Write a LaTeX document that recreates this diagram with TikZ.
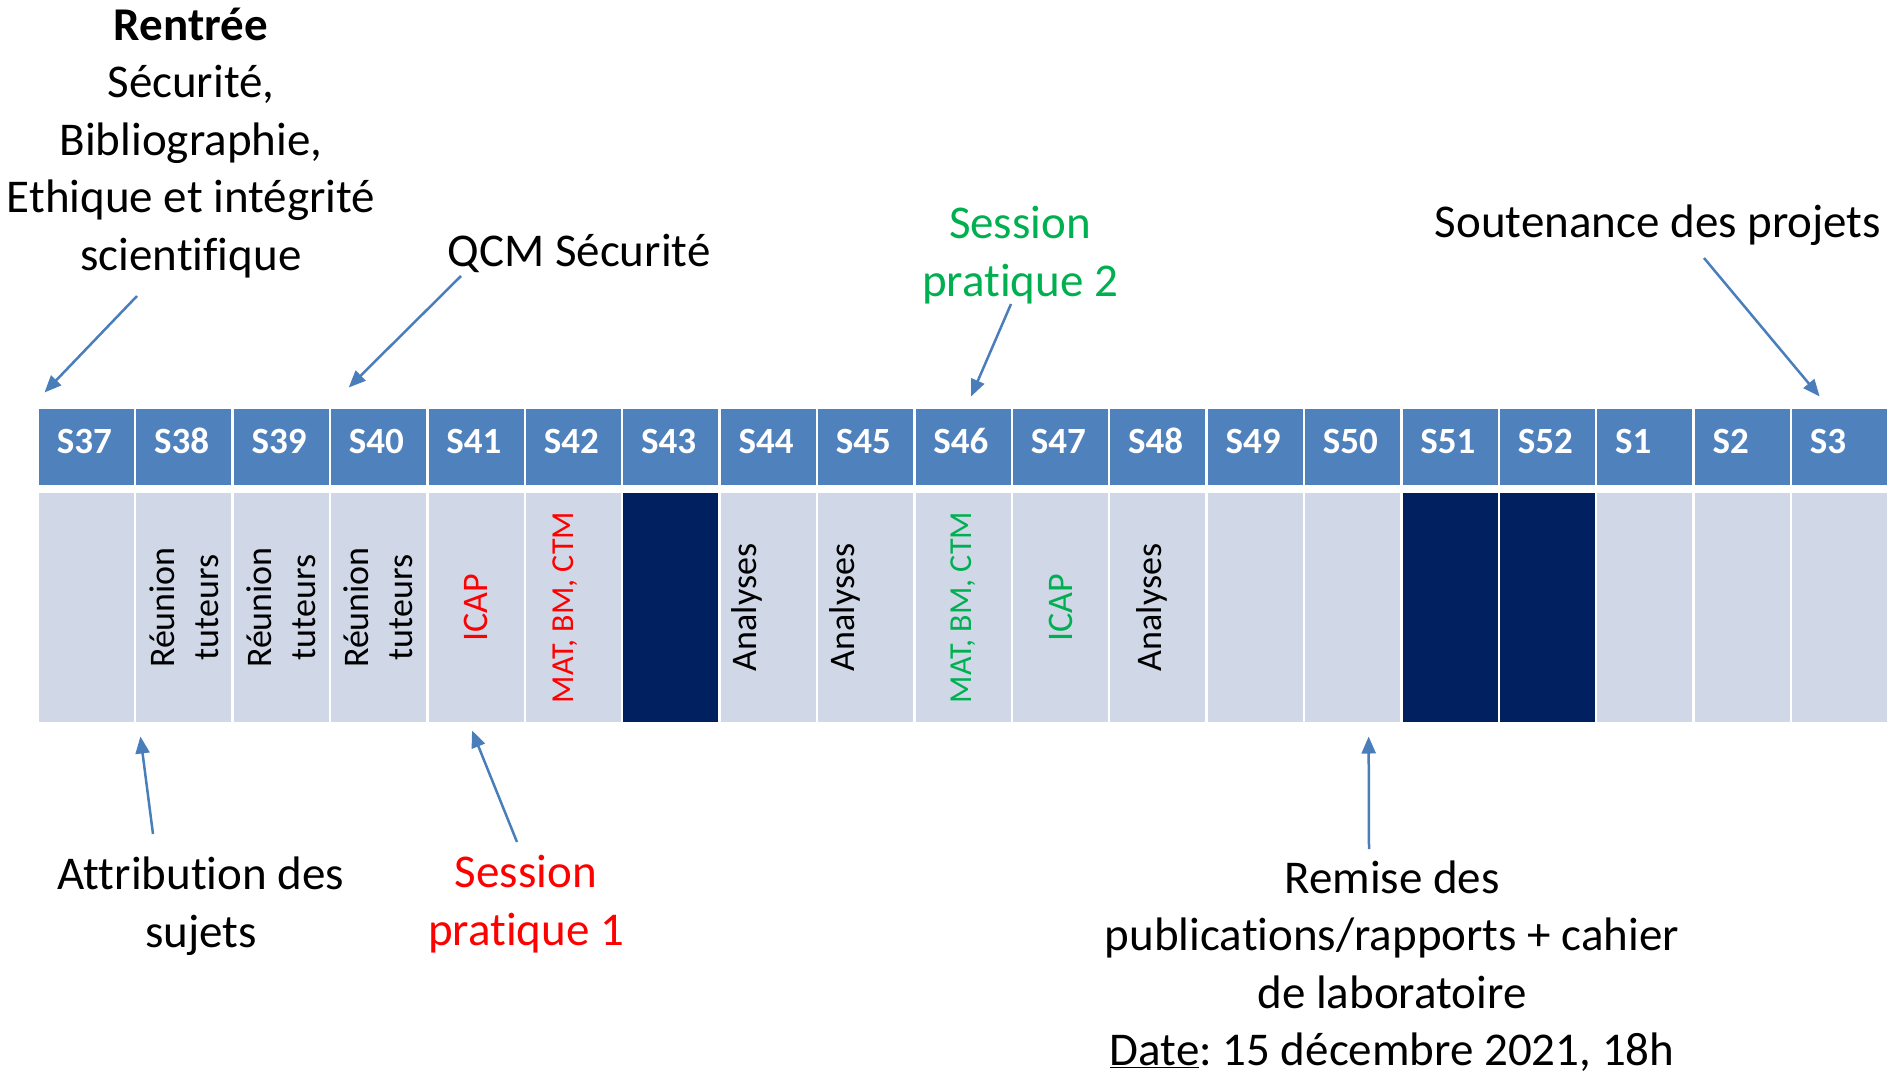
\documentclass[tikz,border=0pt]{standalone}
\usepackage{fontspec}
\setmainfont[Ligatures=NoCommon]{Carlito}
\usetikzlibrary{arrows.meta}
\frenchspacing

\definecolor{headblue}{RGB}{79,129,189}
\definecolor{cellgray}{RGB}{208,216,232}
\definecolor{navy}{RGB}{0,32,96}
\definecolor{arrowblue}{RGB}{74,126,187}
\definecolor{sesgreen}{RGB}{0,176,80}

\begin{document}
\begin{tikzpicture}[x=1pt,y=-1pt]
\useasboundingbox (0,0) rectangle (1899,1076);
\tikzstyle{week}=[draw=white,line width=2.5pt,fill=headblue,text=white,
  minimum width=97.4pt,minimum height=78.5pt,inner xsep=19pt,
  text width=59.4pt,align=left,text depth=12pt,
  font=\fontsize{37}{44}\selectfont\bfseries];
\tikzstyle{slot}=[draw=white,line width=2.5pt,fill=cellgray,
  minimum width=97.4pt,minimum height=231.5pt];
\tikzstyle{vtext}=[rotate=90,align=center,inner sep=0pt,
  font=\fontsize{36}{44}\selectfont];
\tikzstyle{note}=[align=center,inner sep=0pt,
  font=\fontsize{47}{57.5}\selectfont];
\tikzstyle{pointer}=[draw=arrowblue,line width=2.5pt,
  -{Triangle[length=17pt,width=14pt]}];
% semaines
\foreach \w [count=\i from 0] in {37,...,52,1,2,3}{
  \node[week] (h\w) at (86.45+97.4*\i,447) {S\w};
  \node[slot] (b\w) at (86.45+97.4*\i,607.5) {};
}
% vacances
\foreach \w in {43,51,52}
  \node[slot,fill=navy] at (b\w) {};
% contenu des semaines
\node[vtext] (t38) at (b38) {Réunion\\tuteurs};
\node[vtext] (t39) at (b39) {Réunion\\tuteurs};
\node[vtext] (t40) at (b40) {Réunion\\tuteurs};
\node[vtext,text=red] (t41) at (b41) {ICAP};
\node[vtext,text=red,font=\fontsize{32}{38}\selectfont] (t42)
  at ([xshift=-8pt]b42) {MAT, BM, CTM};
\node[vtext] (t44) at ([xshift=-21pt]b44) {Analyses};
\node[vtext] (t45) at ([xshift=-21pt]b45) {Analyses};
\node[vtext,text=sesgreen,font=\fontsize{32}{38}\selectfont] (t46)
  at (b46) {MAT, BM, CTM};
\node[vtext,text=sesgreen] (t47) at (b47) {ICAP};
\node[vtext] (t48) at ([xshift=-6pt]b48) {Analyses};
% annotations
\node[note] (rentree) at (191,143)
  {\textbf{Rentrée}\\Sécurité,\\Bibliographie,\\Ethique et intégrité\\scientifique};
\node[note] (qcm) at (579,253) {QCM Sécurité};
\node[note,text=sesgreen] (sp2) at (1020,255) {Session\\pratique 2};
\node[note] (soutenance) at (1658,225) {Soutenance des projets};
\node[note] (attrib) at (201,906) {Attribution des\\sujets};
\node[note,text=red] (sp1) at (526,904) {Session\\pratique 1};
\node[note] (remise) at (1392,966)
  {Remise des\\publications/rapports + cahier\\de laboratoire\\
   \underline{Date}: 15 décembre 2021, 18h};
\coordinate (pRentree) at (137,296);
\coordinate (pQcm) at (461,276);
\coordinate (pSp2) at (1011,304);
\coordinate (pSout) at (1704,258);
\coordinate (pAttrib) at (153,834);
\coordinate (pSp1) at (517,842);
\coordinate (pRemise) at (1369,849);
\draw[pointer] (pRentree) -- ([shift={(8,-14)}]h37.north west);
\draw[pointer] (pQcm) -- ([shift={(20,-19)}]h40.north west);
\draw[pointer] (pSp2) -- ([shift={(8,-10)}]h46.north);
\draw[pointer] (pSout) -- ([shift={(-20,-10)}]h3.north);
\draw[pointer] (pAttrib) -- ([shift={(4,12)}]b37.south east);
\draw[pointer] (pSp1) -- ([shift={(-4,6)}]b41.south);
\draw[pointer] (pRemise) -- ([shift={(16,12)}]b50.south);
\end{tikzpicture}
\end{document}
